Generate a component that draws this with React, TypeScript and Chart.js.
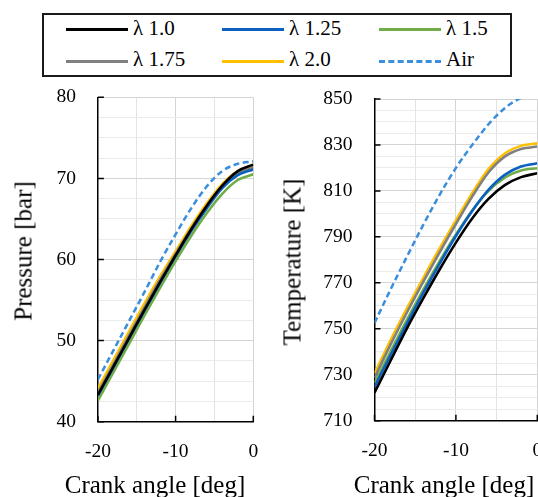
import React, { useEffect, useRef } from 'react';
import { Chart, registerables } from 'chart.js';

Chart.register(...registerables);

const FONT = "'Liberation Serif', 'Times New Roman', serif";

// ---------- data ----------
const crankAngle = [-20, -18, -16, -14, -12, -10, -8, -6, -4, -2, 0];

const seriesLabels = ['λ 1.0', 'λ 1.25', 'λ 1.5', 'λ 1.75', 'λ 2.0', 'Air'];
const seriesColors = ['#000000', '#0a5fc0', '#70ad47', '#808080', '#ffc000', '#3a8edb'];
const seriesDashed = [false, false, false, false, false, true];

// Pressure [bar]
const pressureL100 = [43.3, 46.8, 50.3, 53.8, 57.2, 60.5, 63.7, 66.6, 69.1, 70.9, 71.7];
const pressureL125 = [43.2, 46.7, 50.2, 53.7, 57.1, 60.4, 63.5, 66.3, 68.8, 70.4, 71.1];
const pressureL150 = [42.6, 46.1, 49.6, 53.1, 56.5, 59.8, 62.9, 65.7, 68.1, 69.8, 70.5];
const pressureL175 = [43.6, 47.1, 50.6, 54.1, 57.5, 60.7, 63.8, 66.6, 69.0, 70.6, 71.35];
const pressureL200 = [44.1, 47.6, 51.1, 54.6, 57.9, 61.0, 64.1, 66.9, 69.3, 70.9, 71.6];
const pressureAir = [45.2, 48.8, 52.4, 56.0, 59.7, 63.1, 66.3, 69.0, 70.9, 71.8, 72.1];

// Temperature [K]
const tempL100 = [722.2, 736.3, 750.3, 763.3, 775.8, 787.5, 798.0, 806.5, 812.5, 816.0, 817.7];
const tempL125 = [724.7, 738.7, 752.5, 765.7, 778.4, 790.4, 801.3, 810.5, 817.0, 820.6, 822.0];
const tempL150 = [726.3, 740.3, 754.0, 767.0, 779.4, 791.0, 801.5, 810.0, 815.8, 818.9, 819.9];
const tempL175 = [728.6, 743.3, 757.2, 770.5, 783.3, 795.6, 807.5, 818.0, 824.9, 828.2, 829.3];
const tempL200 = [730.5, 745.2, 759.0, 772.2, 785.0, 797.2, 809.0, 819.5, 826.3, 829.6, 830.7];
const tempAir = [752.5, 767.3, 781.5, 795.3, 808.3, 820.0, 830.0, 839.0, 846.0, 850.5, 852.5];

const pressureSeries = [pressureL100, pressureL125, pressureL150, pressureL175, pressureL200, pressureAir];
const tempSeries = [tempL100, tempL125, tempL150, tempL175, tempL200, tempAir];

const xTickLabels = [-20, -10, 0];
const pressureTickLabels = [40, 50, 60, 70, 80];
const tempTickLabels = [710, 730, 750, 770, 790, 810, 830, 850];

// ---------- chart helpers ----------
const innerTicks = {
  id: 'innerTicks',
  beforeDatasetsDraw(chart: any, _args: any, opts: any) {
    const { ctx, chartArea, scales } = chart;
    ctx.save();
    ctx.strokeStyle = '#000';
    ctx.lineWidth = 1.5;
    ctx.beginPath();
    for (const v of opts.x || []) {
      const px = scales.x.getPixelForValue(v);
      ctx.moveTo(px, chartArea.bottom);
      ctx.lineTo(px, chartArea.bottom - 6);
    }
    for (const v of opts.y || []) {
      const py = scales.y.getPixelForValue(v);
      ctx.moveTo(chartArea.left, py);
      ctx.lineTo(chartArea.left + 6, py);
    }
    ctx.stroke();
    ctx.restore();
  },
};

function makeChart(
  canvas: HTMLCanvasElement,
  series: number[][],
  yMin: number,
  yMax: number,
  yStep: number,
  yLabels: number[],
  yAxisWidth: number,
  xAxisHeight: number,
  padTop: number,
  padRight: number
) {
  const datasets = series.map((vals, i) => ({
    label: seriesLabels[i],
    data: vals.map((v, j) => ({ x: crankAngle[j], y: v })),
    borderColor: seriesColors[i],
    backgroundColor: seriesColors[i],
    borderWidth: seriesDashed[i] ? 2.5 : 2.6,
    borderDash: seriesDashed[i] ? [6, 3.5] : [],
    pointRadius: 0,
    fill: false,
    cubicInterpolationMode: 'monotone' as const,
    clip: 0,
  }));
  const tickFont = { family: FONT, size: 19.5 };
  return new Chart(canvas, {
    type: 'line',
    data: { datasets },
    plugins: [innerTicks],
    options: {
      animation: false,
      responsive: false,
      maintainAspectRatio: false,
      devicePixelRatio: 1,
      layout: { padding: { left: 0, right: padRight, top: padTop, bottom: 0 } },
      plugins: {
        legend: { display: false },
        tooltip: { enabled: false },
        innerTicks: { x: xTickLabels, y: yLabels },
      } as any,
      scales: {
        x: {
          type: 'linear',
          min: -20,
          max: 0,
          ticks: {
            stepSize: 5,
            autoSkip: false,
            maxRotation: 0,
            padding: 0,
            color: '#000',
            font: tickFont,
            callback: (v: any) => (xTickLabels.includes(Number(v)) ? String(v) : ''),
          },
          grid: {
            drawTicks: true,
            tickLength: 18,
            tickColor: 'rgba(0,0,0,0)',
            lineWidth: 1,
            color: (c: any) => (xTickLabels.includes(c.tick?.value) ? '#d4d4d4' : '#e3e3e3'),
          },
          border: { color: '#000', width: 1.5 },
          afterFit: (s: any) => {
            s.height = xAxisHeight;
          },
        },
        y: {
          type: 'linear',
          min: yMin,
          max: yMax,
          ticks: {
            stepSize: yStep,
            autoSkip: false,
            padding: 0,
            color: '#000',
            font: tickFont,
            callback: (v: any) => (yLabels.includes(Number(v)) ? String(v) : ''),
          },
          grid: {
            drawTicks: true,
            tickLength: 22,
            tickColor: 'rgba(0,0,0,0)',
            lineWidth: 1,
            color: (c: any) => (yLabels.includes(c.tick?.value) ? '#d4d4d4' : '#ebebeb'),
          },
          border: { color: '#000', width: 1.5 },
          afterFit: (s: any) => {
            s.width = yAxisWidth;
          },
        },
      },
    } as any,
  });
}

const legendCols = [66, 222, 379];
const legendRowsLine = [29.3, 61];
const legendRowsText = [18.4, 49.1];

export default function App() {
  const leftRef = useRef<HTMLCanvasElement>(null);
  const rightRef = useRef<HTMLCanvasElement>(null);

  useEffect(() => {
    const c1 = makeChart(leftRef.current!, pressureSeries, 40, 80, 2.5, pressureTickLabels, 97.9, 75.3, 17.3, 16.7);
    const c2 = makeChart(rightRef.current!, tempSeries, 710, 850, 5, tempTickLabels, 104.5, 76.3, 19, 32.7);
    return () => {
      c1.destroy();
      c2.destroy();
    };
  }, []);

  const textStyle: React.CSSProperties = {
    position: 'absolute',
    whiteSpace: 'nowrap',
    fontFamily: FONT,
    color: '#000',
  };

  return (
    <div
      style={{
        position: 'fixed',
        left: 0,
        top: 0,
        width: 538,
        height: 497,
        overflow: 'hidden',
        background: '#fff',
        fontFamily: FONT,
      }}
    >
      <canvas ref={leftRef} width={270} height={417} style={{ position: 'absolute', left: 0, top: 80 }} />
      <canvas ref={rightRef} width={300} height={417} style={{ position: 'absolute', left: 270, top: 80 }} />

      {/* legend */}
      <div
        style={{
          position: 'absolute',
          left: 42,
          top: 13,
          width: 470,
          height: 64,
          boxSizing: 'border-box',
          border: '2px solid #1a1a1a',
          background: '#fff',
        }}
      />
      {seriesLabels.map((lab, i) => {
        const col = i % 3;
        const row = Math.floor(i / 3);
        const x = legendCols[col];
        return (
          <React.Fragment key={lab}>
            <div
              style={{
                position: 'absolute',
                left: x,
                top: legendRowsLine[row] - 1.5,
                width: 62,
                height: 0,
                borderTop: `3px ${seriesDashed[i] ? 'dashed' : 'solid'} ${seriesColors[i]}`,
              }}
            />
            <div
              style={{
                ...textStyle,
                left: x + 67,
                top: legendRowsText[row],
                fontSize: 21,
                lineHeight: '21px',
              }}
            >
              {lab}
            </div>
          </React.Fragment>
        );
      })}

      {/* axis titles */}
      <div style={{ ...textStyle, left: 5, top: 471.5, width: 300, textAlign: 'center', fontSize: 25, lineHeight: '25px' }}>
        Crank angle [deg]
      </div>
      <div style={{ ...textStyle, left: 294, top: 471.5, width: 300, textAlign: 'center', fontSize: 25, lineHeight: '25px' }}>
        Crank angle [deg]
      </div>
      <div
        style={{
          ...textStyle,
          left: 23.3,
          top: 251,
          fontSize: 25,
          lineHeight: '25px',
          transform: 'translate(-50%, -50%) rotate(-90deg)',
        }}
      >
        Pressure [bar]
      </div>
      <div
        style={{
          ...textStyle,
          left: 291.6,
          top: 261.5,
          fontSize: 25,
          lineHeight: '25px',
          transform: 'translate(-50%, -50%) rotate(-90deg)',
        }}
      >
        Temperature [K]
      </div>
    </div>
  );
}
